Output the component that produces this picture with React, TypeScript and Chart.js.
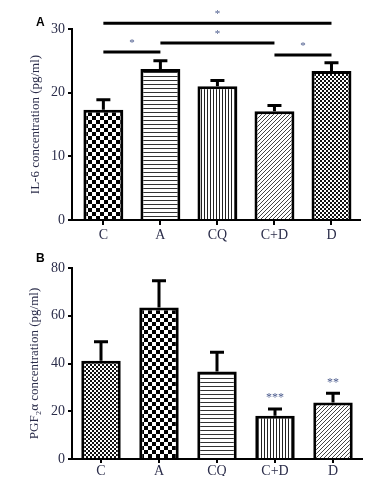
import React, { useEffect, useRef } from 'react';
import { Chart, registerables } from 'chart.js';

Chart.register(...registerables);

// ---------- data ----------
const categories = ['C', 'A', 'CQ', 'C+D', 'D'];

const il6Means = [17.3, 23.7, 21.0, 17.1, 23.4];
const il6Err = [1.6, 1.3, 0.9, 0.9, 1.3];
const il6YTicks = [0, 10, 20, 30];
const il6Patterns = ['checkerCoarse', 'hlines', 'vlines', 'diag', 'checkerFine'];
const il6SigPairs = [[0, 4], [0, 1], [1, 3], [3, 4]];
const il6SigLevels = [30.9, 26.4, 27.8, 25.9];
const il6SigLabels = ['*', '*', '*', '*'];

const pgfMeans = [41.2, 63.5, 36.6, 18.1, 23.7];
const pgfErr = [7.9, 11.2, 8.1, 2.8, 3.8];
const pgfYTicks = [0, 20, 40, 60, 80];
const pgfPatterns = ['checkerFine', 'checkerCoarse', 'hlines', 'vlines', 'diag'];
const pgfStars = ['', '', '', '***', '**'];

const il6Title = 'IL-6 concentration (pg/ml)';
const pgfTitle = 'PGF\u2082\u03b1 concentration (pg/ml)';

// ---------- helpers ----------
const TEXT = '#2b2d4a';
const SERIF = '"Liberation Serif", "DejaVu Serif", serif';

function makePattern(kind: string): CanvasPattern | string {
  const c = document.createElement('canvas');
  let s = 4;
  if (kind === 'checkerCoarse') s = 8;
  if (kind === 'vlines') s = 3;
  c.width = s;
  c.height = s;
  const ctx = c.getContext('2d');
  if (!ctx) return '#888';
  ctx.fillStyle = '#fff';
  ctx.fillRect(0, 0, s, s);
  if (kind === 'checkerCoarse') {
    ctx.fillStyle = '#000';
    ctx.fillRect(0, 0, 4, 4);
    ctx.fillRect(4, 4, 4, 4);
  } else if (kind === 'checkerFine') {
    ctx.fillStyle = '#111';
    ctx.fillRect(0, 0, 2, 2);
    ctx.fillRect(2, 2, 2, 2);
  } else if (kind === 'hlines') {
    ctx.fillStyle = '#333';
    ctx.fillRect(0, 0, s, 1);
  } else if (kind === 'vlines') {
    ctx.fillStyle = '#222';
    ctx.fillRect(0, 0, 1, s);
  } else if (kind === 'diag') {
    ctx.fillStyle = '#444';
    for (let i = 0; i < s; i++) ctx.fillRect(i, s - 1 - i, 1, 1);
  }
  return ctx.createPattern(c, 'repeat') || '#888';
}

type PanelOpts = {
  means: number[];
  errs: number[];
  yTicks: number[];
  patterns: string[];
  title: string;
  panel: string;
  panelY: number;
  xMin: number;
  xMax: number;
  padTop: number;
  padRight: number;
  xHeight: number;
  xTickLen: number;
  xTickPad: number;
  titlePad: number;
  barPct: number;
  sigPairs?: number[][];
  sigLevels?: number[];
  sigLabels?: string[];
  stars?: string[];
};

function buildChart(canvas: HTMLCanvasElement, o: PanelOpts): Chart {
  const errorBars = {
    id: 'errorBars',
    afterDatasetsDraw(chart: any) {
      const { ctx } = chart;
      const xs = chart.scales.x;
      const ys = chart.scales.y;
      ctx.save();
      ctx.strokeStyle = '#000';
      ctx.lineWidth = 3;
      o.means.forEach((m, i) => {
        const x = xs.getPixelForValue(i);
        const y0 = ys.getPixelForValue(m);
        const y1 = ys.getPixelForValue(m + o.errs[i]);
        ctx.beginPath();
        ctx.moveTo(x, y0);
        ctx.lineTo(x, y1);
        ctx.moveTo(x - 7, y1);
        ctx.lineTo(x + 7, y1);
        ctx.stroke();
        const st = o.stars ? o.stars[i] : '';
        if (st) {
          ctx.fillStyle = '#4a5a8c';
          ctx.font = '12px ' + SERIF;
          ctx.textAlign = 'center';
          ctx.textBaseline = 'middle';
          ctx.fillText(st, x, y1 - 11);
        }
      });
      ctx.restore();
    },
  };
  const sig = {
    id: 'sig',
    afterDraw(chart: any) {
      const { ctx } = chart;
      const xs = chart.scales.x;
      const ys = chart.scales.y;
      ctx.save();
      if (o.sigPairs && o.sigLevels) {
        o.sigPairs.forEach((p, k) => {
          const x1 = xs.getPixelForValue(p[0]);
          const x2 = xs.getPixelForValue(p[1]);
          const y = ys.getPixelForValue(o.sigLevels![k]);
          ctx.strokeStyle = '#000';
          ctx.lineWidth = 3;
          ctx.beginPath();
          ctx.moveTo(x1, y);
          ctx.lineTo(x2, y);
          ctx.stroke();
          ctx.fillStyle = '#4a5a8c';
          ctx.font = '11px ' + SERIF;
          ctx.textAlign = 'center';
          ctx.textBaseline = 'middle';
          ctx.fillText(o.sigLabels ? o.sigLabels[k] : '*', (x1 + x2) / 2, y - 9);
        });
      }
      ctx.fillStyle = '#000';
      ctx.font = 'bold 12px "Liberation Sans", Arial, sans-serif';
      ctx.textAlign = 'left';
      ctx.textBaseline = 'middle';
      ctx.fillText(o.panel, 36, o.panelY);
      ctx.restore();
    },
  };

  return new Chart(canvas, {
    type: 'bar',
    data: {
      datasets: [
        {
          data: o.means.map((v, i) => ({ x: i, y: v })),
          backgroundColor: o.patterns.map(makePattern) as any,
          borderColor: '#000',
          borderWidth: 3,
          barPercentage: o.barPct,
          categoryPercentage: 1,
        },
      ],
    },
    options: {
      responsive: false,
      animation: false,
      devicePixelRatio: 1,
      layout: { padding: { top: o.padTop, left: 0, right: o.padRight, bottom: 0 } },
      plugins: { legend: { display: false }, tooltip: { enabled: false } },
      scales: {
        x: {
          type: 'linear',
          offset: false,
          min: o.xMin,
          max: o.xMax,
          afterBuildTicks: (s: any) => {
            s.ticks = categories.map((_, i) => ({ value: i }));
          },
          afterFit: (s: any) => {
            s.height = o.xHeight;
          },
          ticks: {
            callback: (v: any) => categories[v] ?? '',
            color: TEXT,
            font: { family: SERIF, size: 14 },
            padding: o.xTickPad,
            maxRotation: 0,
            autoSkip: false,
          },
          grid: { offset: false, drawOnChartArea: false, tickLength: o.xTickLen, color: '#000', lineWidth: 2 },
          border: { color: '#000', width: 2 },
        },
        y: {
          type: 'linear',
          min: o.yTicks[0],
          max: o.yTicks[o.yTicks.length - 1],
          afterBuildTicks: (s: any) => {
            s.ticks = o.yTicks.map((v) => ({ value: v }));
          },
          afterFit: (s: any) => {
            s.width = 72;
          },
          ticks: {
            color: TEXT,
            font: { family: SERIF, size: 14 },
            padding: 3,
          },
          grid: { drawOnChartArea: false, tickLength: 4, color: '#000', lineWidth: 2 },
          border: { color: '#000', width: 2 },
          title: {
            display: true,
            text: o.title,
            color: TEXT,
            font: { family: SERIF, size: 13 },
            padding: { top: o.titlePad, bottom: 0 },
          },
        },
      },
    },
    plugins: [errorBars, sig],
  } as any);
}

function Panel({ opts, height }: { opts: PanelOpts; height: number }) {
  const ref = useRef<HTMLCanvasElement>(null);
  useEffect(() => {
    if (!ref.current) return;
    const chart = buildChart(ref.current, opts);
    return () => chart.destroy();
  }, []);
  return <canvas ref={ref} width={386} height={height} style={{ display: 'block', width: 386, height }} />;
}

export default function App() {
  const top: PanelOpts = {
    means: il6Means,
    errs: il6Err,
    yTicks: il6YTicks,
    patterns: il6Patterns,
    title: il6Title,
    panel: 'A',
    panelY: 23,
    xMin: -0.55,
    xMax: 4.5,
    padTop: 29,
    padRight: 26,
    xHeight: 22,
    xTickLen: 5,
    xTickPad: 2,
    titlePad: 28,
    barPct: 0.7,
    sigPairs: il6SigPairs,
    sigLevels: il6SigLevels,
    sigLabels: il6SigLabels,
  };
  const bottom: PanelOpts = {
    means: pgfMeans,
    errs: pgfErr,
    yTicks: pgfYTicks,
    patterns: pgfPatterns,
    title: pgfTitle,
    panel: 'B',
    panelY: 17,
    xMin: -0.5,
    xMax: 4.5,
    padTop: 26,
    padRight: 24,
    xHeight: 25,
    xTickLen: 4,
    xTickPad: 0,
    titlePad: 27,
    barPct: 0.68,
    stars: pgfStars,
  };
  return (
    <div style={{ position: 'relative', width: 386, height: 484, margin: -8, background: '#fff' }}>
      <Panel opts={top} height={242} />
      <Panel opts={bottom} height={242} />
    </div>
  );
}
